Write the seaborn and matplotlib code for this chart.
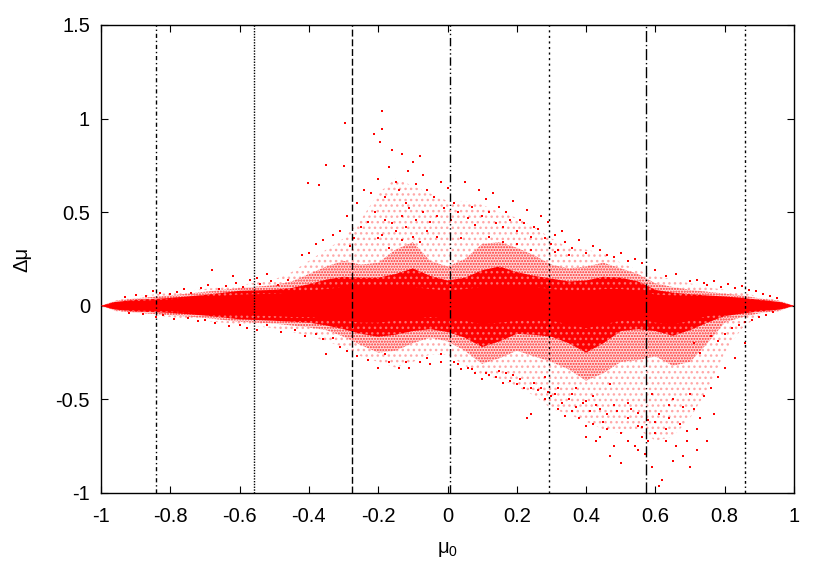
import matplotlib
matplotlib.use("Agg")
import matplotlib.pyplot as plt
import pandas as pd
import seaborn as sns

# envelopes of the cloud
grid_mu = [-1, -0.96, -0.9, -0.8, -0.7, -0.6, -0.5, -0.45, -0.4, -0.35, -0.3, -0.25, -0.2, -0.15, -0.1, -0.05,
           0, 0.05, 0.1, 0.15, 0.2, 0.25, 0.3, 0.35, 0.4, 0.45, 0.5, 0.55, 0.6, 0.65, 0.7, 0.75, 0.8, 0.85, 0.9, 0.96, 1]
core_hi = [0, 0.016, 0.025, 0.035, 0.045, 0.06, 0.065, 0.07, 0.08, 0.09, 0.1, 0.1, 0.1, 0.1, 0.1, 0.09,
           0.08, 0.09, 0.1, 0.1, 0.1, 0.1, 0.09, 0.08, 0.08, 0.09, 0.09, 0.08, 0.06, 0.055, 0.05, 0.05, 0.045, 0.04, 0.03, 0.016, 0]
core_lo = [0, -0.016, -0.025, -0.03, -0.04, -0.05, -0.055, -0.06, -0.06, -0.07, -0.08, -0.09, -0.09, -0.08, -0.07, -0.06,
           -0.07, -0.08, -0.1, -0.09, -0.08, -0.08, -0.08, -0.1, -0.12, -0.1, -0.08, -0.07, -0.09, -0.1, -0.08, -0.055, -0.045, -0.035, -0.025, -0.016, 0]
mid_hi = [0, 0.02, 0.032, 0.042, 0.058, 0.08, 0.085, 0.095, 0.115, 0.14, 0.155, 0.15, 0.15, 0.17, 0.2, 0.16,
          0.135, 0.15, 0.19, 0.21, 0.18, 0.16, 0.145, 0.13, 0.135, 0.155, 0.15, 0.13, 0.085, 0.07, 0.062, 0.055, 0.05, 0.042, 0.032, 0.02, 0]
mid_lo = [0, -0.02, -0.03, -0.038, -0.052, -0.072, -0.08, -0.085, -0.09, -0.105, -0.125, -0.15, -0.165, -0.155, -0.135, -0.125,
          -0.14, -0.17, -0.22, -0.19, -0.15, -0.155, -0.165, -0.2, -0.25, -0.2, -0.135, -0.125, -0.135, -0.16, -0.13, -0.09, -0.055, -0.042, -0.03, -0.02, 0]
fringe_hi = [0, 0.025, 0.04, 0.055, 0.075, 0.095, 0.11, 0.13, 0.17, 0.21, 0.24, 0.22, 0.23, 0.3, 0.34, 0.24,
             0.21, 0.25, 0.33, 0.34, 0.31, 0.27, 0.22, 0.2, 0.21, 0.23, 0.2, 0.17, 0.12, 0.1, 0.085, 0.075, 0.065, 0.055, 0.04, 0.025, 0]
fringe_lo = [0, -0.025, -0.037, -0.05, -0.065, -0.085, -0.095, -0.105, -0.115, -0.13, -0.165, -0.21, -0.25, -0.24, -0.2, -0.17,
             -0.19, -0.24, -0.31, -0.28, -0.24, -0.27, -0.3, -0.34, -0.4, -0.36, -0.3, -0.29, -0.27, -0.32, -0.3, -0.2, -0.09, -0.06, -0.04, -0.025, 0]
outer_hi = [0, 0.028, 0.05, 0.07, 0.09, 0.11, 0.14, 0.18, 0.24, 0.3, 0.36, 0.46, 0.6, 0.68, 0.64, 0.6,
            0.56, 0.56, 0.54, 0.5, 0.47, 0.42, 0.36, 0.31, 0.3, 0.28, 0.23, 0.19, 0.16, 0.14, 0.12, 0.1, 0.085, 0.07, 0.05, 0.028, 0]
outer_lo = [0, -0.028, -0.04, -0.06, -0.08, -0.1, -0.12, -0.14, -0.16, -0.19, -0.22, -0.27, -0.3, -0.33, -0.3, -0.26,
            -0.26, -0.32, -0.37, -0.39, -0.43, -0.48, -0.55, -0.58, -0.62, -0.66, -0.68, -0.66, -0.72, -0.7, -0.6, -0.45, -0.25, -0.12, -0.05, -0.028, 0]

upper_mu = [-0.188, -0.295, -0.211, -0.188, -0.195, -0.16, -0.351, -0.298, -0.402, -0.371, -0.13, -0.1, -0.08, -0.115, -0.07,
            -0.17, -0.15, -0.24, -0.26, -0.25, -0.22, -0.2, -0.18, -0.14, -0.12, -0.09, -0.06, -0.04, -0.02, 0.0,
            0.02, 0.05, 0.07, 0.09, 0.11, 0.13, 0.15, 0.17, 0.19, 0.21, 0.23, 0.25, 0.27, 0.29, 0.31, 0.33,
            -0.29, -0.31, -0.33, -0.36, -0.38, -0.4, -0.42, -0.28, -0.27, -0.23, -0.21, -0.19, -0.16, -0.13, -0.11,
            -0.07, -0.05, -0.03, -0.01, 0.01, 0.03, 0.06, 0.08, 0.1, 0.12, 0.14, 0.16, 0.18, 0.2, 0.22, 0.24, 0.26,
            0.28, 0.3, 0.32, 0.34, 0.36, 0.38, 0.4, 0.42, 0.44, 0.46, 0.48, 0.5, 0.52, 0.54, 0.56, 0.6, 0.63, 0.66, 0.7, 0.75,
            -0.18, -0.15, -0.12, -0.09, -0.06, -0.1, -0.08, -0.13, -0.17, -0.2, -0.03, 0.04, 0.12, 0.16, 0.2, 0.24, 0.31, 0.35, -0.52, -0.55, -0.62, -0.68]
upper_dmu = [1.04, 0.976, 0.917, 0.945, 0.875, 0.83, 0.753, 0.746, 0.657, 0.646, 0.81, 0.77, 0.8, 0.72, 0.7,
             0.74, 0.66, 0.62, 0.55, 0.42, 0.6, 0.68, 0.58, 0.62, 0.55, 0.65, 0.62, 0.58, 0.66, 0.63,
             0.55, 0.66, 0.53, 0.62, 0.57, 0.6, 0.53, 0.5, 0.56, 0.46, 0.51, 0.42, 0.48, 0.45, 0.38, 0.4,
             0.48, 0.4, 0.38, 0.35, 0.33, 0.28, 0.27, 0.32, 0.36, 0.45, 0.5, 0.38, 0.44, 0.48, 0.52,
             0.5, 0.45, 0.48, 0.52, 0.46, 0.5, 0.47, 0.43, 0.48, 0.5, 0.44, 0.42, 0.46, 0.4, 0.44, 0.37, 0.41,
             0.36, 0.33, 0.3, 0.34, 0.31, 0.35, 0.28, 0.32, 0.3, 0.27, 0.26, 0.28, 0.24, 0.25, 0.23, 0.19, 0.16, 0.17, 0.13, 0.11,
             0.46, 0.4, 0.42, 0.46, 0.4, 0.37, 0.34, 0.35, 0.31, 0.36, 0.37, 0.36, 0.37, 0.34, 0.33, 0.3, 0.29, 0.27, 0.17, 0.15, 0.16, 0.19]
lower_mu = [0.61, 0.62, 0.57, 0.59, 0.58, 0.5, 0.47, 0.55, 0.43, 0.4, 0.66, 0.68, 0.7, 0.72, 0.75, 0.65, 0.63, 0.6, 0.56, 0.54,
            0.52, 0.5, 0.48, 0.46, 0.44, 0.42, 0.4, 0.38, 0.36, 0.34, 0.32, 0.3, 0.28, 0.26, 0.24, 0.22, 0.2, 0.18, 0.16, 0.14,
            0.12, 0.1, 0.08, 0.06, 0.04, 0.02, 0.23, 0.24, -0.02, -0.05, -0.08, -0.11, -0.14, -0.17, -0.2, -0.23, -0.26, -0.29, -0.31, -0.35,
            0.69, 0.67, 0.64, 0.61, 0.58, 0.55, 0.52, 0.49, 0.46, 0.43, 0.41, 0.39, 0.37, 0.35, 0.33, 0.31, 0.29, 0.27, 0.25, 0.21, 0.19, 0.17,
            0.73, 0.71, 0.74, 0.76, 0.78, 0.8, 0.83, 0.86, 0.72, 0.68, 0.64, 0.6, 0.56, 0.52, 0.48, 0.44, 0.4, 0.36, 0.32, 0.28,
            -0.18, -0.12, -0.06, -0.02, 0.03, 0.07, 0.11, 0.15, 0.37, 0.42, 0.47, 0.53, 0.59, 0.65, 0.7, 0.77, 0.69, 0.63, 0.55, 0.45]
lower_dmu = [-0.96, -0.93, -0.79, -0.86, -0.72, -0.84, -0.8, -0.77, -0.72, -0.7, -0.75, -0.8, -0.86, -0.77, -0.72, -0.83, -0.72, -0.68, -0.7, -0.75,
             -0.72, -0.68, -0.75, -0.66, -0.7, -0.63, -0.64, -0.6, -0.56, -0.59, -0.55, -0.48, -0.5, -0.45, -0.44, -0.44, -0.42, -0.4, -0.41, -0.38,
             -0.37, -0.39, -0.36, -0.33, -0.34, -0.3, -0.6, -0.58, -0.3, -0.31, -0.3, -0.33, -0.33, -0.3, -0.33, -0.29, -0.27, -0.24, -0.22, -0.26,
             -0.67, -0.63, -0.6, -0.58, -0.61, -0.57, -0.6, -0.56, -0.58, -0.53, -0.56, -0.52, -0.54, -0.5, -0.52, -0.47, -0.46, -0.44, -0.41, -0.39, -0.37, -0.36,
             -0.6, -0.55, -0.48, -0.44, -0.38, -0.33, -0.28, -0.2, -0.66, -0.54, -0.53, -0.62, -0.65, -0.52, -0.53, -0.55, -0.51, -0.47, -0.44, -0.38,
             -0.26, -0.3, -0.28, -0.26, -0.31, -0.34, -0.36, -0.35, -0.44, -0.48, -0.42, -0.55, -0.47, -0.5, -0.47, -0.58, -0.72, -0.66, -0.64, -0.62]
# fuzz along the thin ends of the cloud
edge_mu = [-0.93, -0.9, -0.87, -0.85, -0.83, -0.8, -0.78, -0.76, -0.74, -0.71, -0.69, -0.66, -0.64, -0.61, -0.59, -0.57, -0.54, -0.51, -0.49, -0.46,
           -0.92, -0.88, -0.84, -0.82, -0.79, -0.75, -0.72, -0.7, -0.67, -0.63, -0.6, -0.58, -0.55, -0.52, -0.48, -0.44, -0.41, -0.38, -0.36, -0.33,
           0.72, 0.74, 0.77, 0.79, 0.81, 0.83, 0.85, 0.87, 0.89, 0.91, 0.93, 0.95, 0.71, 0.73, 0.76, 0.78, 0.8, 0.82, 0.84, 0.86, 0.88, 0.9, 0.92, 0.94]
edge_dmu = [0.045, 0.06, 0.05, 0.08, 0.07, 0.065, 0.075, 0.09, 0.07, 0.095, 0.11, 0.09, 0.105, 0.12, 0.1, 0.14, 0.115, 0.13, 0.11, 0.14,
            -0.04, -0.045, -0.06, -0.05, -0.07, -0.065, -0.08, -0.075, -0.09, -0.11, -0.1, -0.12, -0.13, -0.105, -0.14, -0.13, -0.16, -0.15, -0.18, -0.17,
            0.14, 0.12, 0.13, 0.1, 0.115, 0.095, 0.105, 0.085, 0.08, 0.065, 0.055, 0.04, -0.2, -0.25, -0.16, -0.19, -0.15, -0.12, -0.1, -0.085, -0.075, -0.06, -0.05, -0.035]

divider_mu = [-0.841, -0.558, -0.276, 0.007, 0.293, 0.573, 0.859]
divider_styles = [(0, (3, 2, 1, 2)), (0, (1, 1)), (0, (5, 2)), (0, (6, 2, 1, 2, 1, 2)), (0, (1.5, 2.5)), (0, (8, 2, 1, 2)), (0, (2, 2, 1, 2))]

x_ticks = [-1, -0.8, -0.6, -0.4, -0.2, 0, 0.2, 0.4, 0.6, 0.8, 1]
x_tick_labels = ["-1", "-0.8", "-0.6", "-0.4", "-0.2", "0", "0.2", "0.4", "0.6", "0.8", "1"]
y_ticks = [-1, -0.5, 0, 0.5, 1, 1.5]
y_tick_labels = ["-1", "-0.5", "0", "0.5", "1", "1.5"]


def main():
    sns.set_theme(style="ticks")
    plt.rcParams["font.family"] = ["Liberation Sans", "DejaVu Sans"]
    plt.rcParams["mathtext.default"] = "regular"

    fig = plt.figure(figsize=(8.3, 5.81), dpi=100)
    ax = fig.add_axes([101 / 830, 1 - 493 / 581, 693 / 830, 468 / 581])

    ax.fill_between(grid_mu, outer_lo, outer_hi, facecolor="none", edgecolor="#ffa8a8",
                    hatch="...", linewidth=0, zorder=1)
    ax.fill_between(grid_mu, fringe_lo, fringe_hi, facecolor="#ffd8d8", edgecolor="#ff3030",
                    hatch="......", linewidth=0, zorder=2)
    ax.fill_between(grid_mu, mid_lo, mid_hi, facecolor="#ff0000", edgecolor="#ff7070",
                    hatch="...", linewidth=0, zorder=3)
    ax.fill_between(grid_mu, core_lo, core_hi, facecolor="#ff0000", edgecolor="none", zorder=4)

    dots = pd.DataFrame({"mu": upper_mu + lower_mu + edge_mu, "dmu": upper_dmu + lower_dmu + edge_dmu})
    sns.scatterplot(data=dots, x="mu", y="dmu", ax=ax, color="#ff0000", marker="s", s=1.5,
                    linewidth=0, zorder=5, legend=False)

    for mu, style in zip(divider_mu, divider_styles):
        ax.axvline(mu, color="black", linewidth=1.0, linestyle=style, zorder=6)

    ax.set_xlim(-1, 1)
    ax.set_ylim(-1, 1.5)
    ax.set_xticks(x_ticks, x_tick_labels)
    ax.set_yticks(y_ticks, y_tick_labels)
    ax.tick_params(direction="in", length=5, width=0.8, top=True, right=True,
                   labelsize=14.5, colors="black")
    ax.tick_params(axis="x", pad=10)
    ax.tick_params(axis="y", pad=8)
    for spine in ax.spines.values():
        spine.set_visible(True)
        spine.set_linewidth(1.0)
        spine.set_color("black")

    ax.set_xlabel("μ$_0$", fontsize=14.5, color="black", labelpad=10)
    ax.set_ylabel("Δμ", fontsize=14.5, color="black", labelpad=17)

    fig.savefig("out.png", dpi=100)
    plt.close(fig)


if __name__ == "__main__":
    main()
